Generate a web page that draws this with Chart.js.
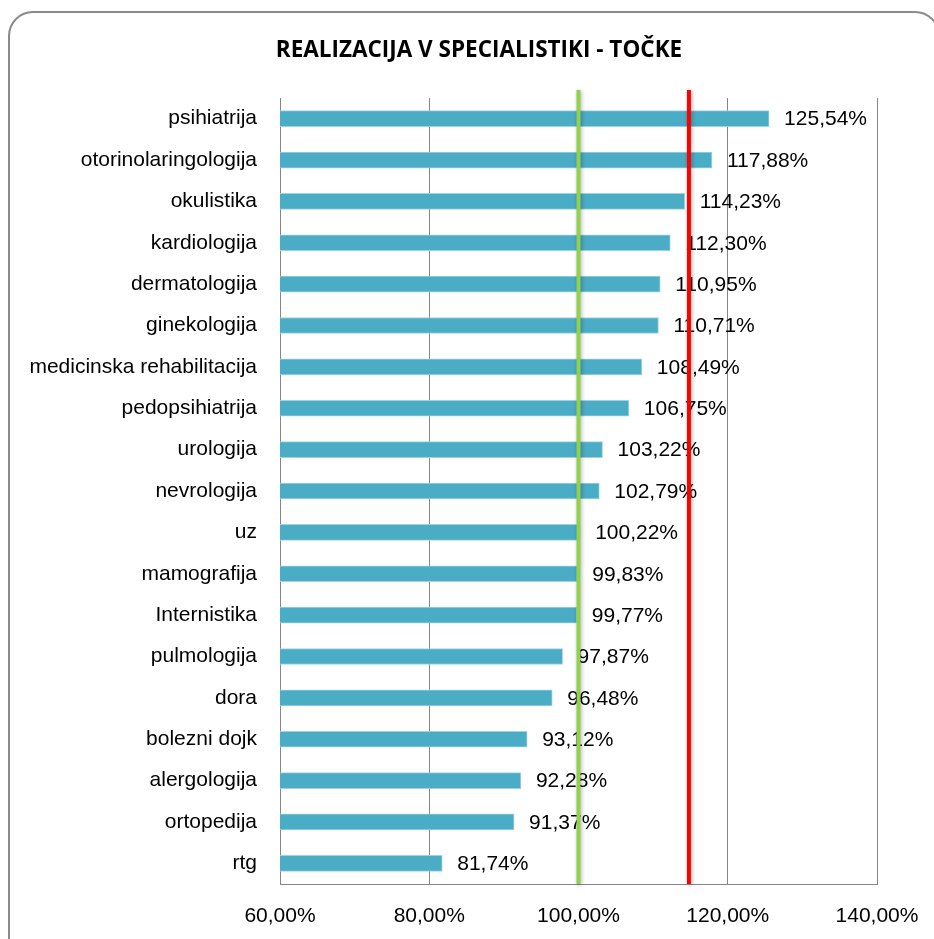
<!DOCTYPE html>
<html>
<head>
<meta charset="utf-8">
<script src="https://cdn.jsdelivr.net/npm/chart.js@4"></script>
<style>
  html, body { margin: 0; padding: 0; background: #fff; }
  #wrap { width: 934px; height: 939px; position: relative; }
</style>
</head>
<body>
<div id="wrap"><canvas id="myChart" width="934" height="939"></canvas></div>
<script>
'use strict';

const categories = ['psihiatrija', 'otorinolaringologija', 'okulistika', 'kardiologija', 'dermatologija', 'ginekologija', 'medicinska rehabilitacija', 'pedopsihiatrija', 'urologija', 'nevrologija', 'uz', 'mamografija', 'Internistika', 'pulmologija', 'dora', 'bolezni dojk', 'alergologija', 'ortopedija', 'rtg'];
const realizacija = [125.54, 117.88, 114.23, 112.30, 110.95, 110.71, 108.49, 106.75, 103.22, 102.79, 100.22, 99.83, 99.77, 97.87, 96.48, 93.12, 92.28, 91.37, 81.74];
const xTicks = [60, 80, 100, 120, 140];
const refLines = [100, 114.8];
const refColors = ['#92d050', '#ff0000'];
const chartTitle = 'REALIZACIJA V SPECIALISTIKI - TOČKE';

const labelFont = '21px "Liberation Sans", Arial, sans-serif';

function fmt(v) {
  return v.toFixed(2).replace('.', ',') + '%';
}

// rounded frame + title
const framePlugin = {
  id: 'frame',
  beforeDraw(chart) {
    const ctx = chart.ctx;
    ctx.save();
    ctx.strokeStyle = '#8a8a8a';
    ctx.lineWidth = 2;
    ctx.beginPath();
    ctx.roundRect(9, 12, 930, 960, 24);
    ctx.stroke();

    ctx.fillStyle = '#000';
    ctx.font = 'bold 22.5px "Open Sans", sans-serif';
    ctx.textAlign = 'center';
    ctx.textBaseline = 'middle';
    ctx.fillText(chartTitle, 479, 51);
    ctx.restore();
  }
};

// value labels right of each bar
const valuePlugin = {
  id: 'values',
  afterDatasetsDraw(chart) {
    const ctx = chart.ctx;
    const meta = chart.getDatasetMeta(0);
    ctx.save();
    ctx.font = labelFont;
    ctx.fillStyle = '#000';
    ctx.textAlign = 'left';
    ctx.textBaseline = 'middle';
    meta.data.forEach((bar, i) => {
      ctx.fillText(fmt(realizacija[i]), bar.x + 15, bar.y + 1);
    });
    ctx.restore();
  }
};

// green / red vertical lines
const refPlugin = {
  id: 'refs',
  afterDraw(chart) {
    const ctx = chart.ctx;
    const x = chart.scales.x;
    const area = chart.chartArea;
    ctx.save();
    ctx.lineWidth = 4;
    ctx.shadowColor = 'rgba(0,0,0,0.3)';
    ctx.shadowBlur = 4;
    ctx.shadowOffsetX = 1;
    ctx.shadowOffsetY = 1;
    for (let i = 0; i < refLines.length; i++) {
      const px = x.getPixelForValue(refLines[i]);
      ctx.strokeStyle = refColors[i];
      ctx.beginPath();
      ctx.moveTo(px, area.top - 8);
      ctx.lineTo(px, area.bottom);
      ctx.stroke();
    }
    ctx.restore();
  }
};

const data = {
  labels: categories,
  datasets: [{
    data: realizacija,
    backgroundColor: '#4bacc6',
    borderColor: '#9fd3e1',
    borderWidth: 1,
    borderSkipped: 'left',
    barThickness: 16
  }]
};

const config = {
  type: 'bar',
  data: data,
  options: {
    indexAxis: 'y',
    responsive: false,
    animation: false,
    layout: { padding: { left: 0, right: 57, top: 98, bottom: 0 } },
    plugins: {
      legend: { display: false },
      tooltip: { enabled: false },
      title: { display: false }
    },
    scales: {
      x: {
        min: 60,
        max: 140,
        afterBuildTicks(scale) {
          scale.ticks = xTicks.map(v => ({ value: v }));
        },
        afterFit(scale) {
          scale.height = 55;
          scale.paddingLeft = 0;
          scale.paddingRight = 0;
        },
        grid: { color: '#868686', lineWidth: 1, drawTicks: false },
        border: { color: '#868686', width: 1 },
        ticks: {
          color: '#000',
          padding: 20,
          font: { family: '"Liberation Sans", Arial, sans-serif', size: 21 },
          callback: v => fmt(v)
        }
      },
      y: {
        afterFit(scale) { scale.width = 280; },
        grid: { display: false, drawTicks: false },
        border: { color: '#868686', width: 1 },
        ticks: {
          color: '#000',
          padding: 23,
          autoSkip: false,
          font: { family: '"Liberation Sans", Arial, sans-serif', size: 21 }
        }
      }
    }
  },
  plugins: [framePlugin, valuePlugin, refPlugin]
};

const canvasChart = document.getElementById('myChart');
const myChart = new Chart(canvasChart, config);
</script>
</body>
</html>
